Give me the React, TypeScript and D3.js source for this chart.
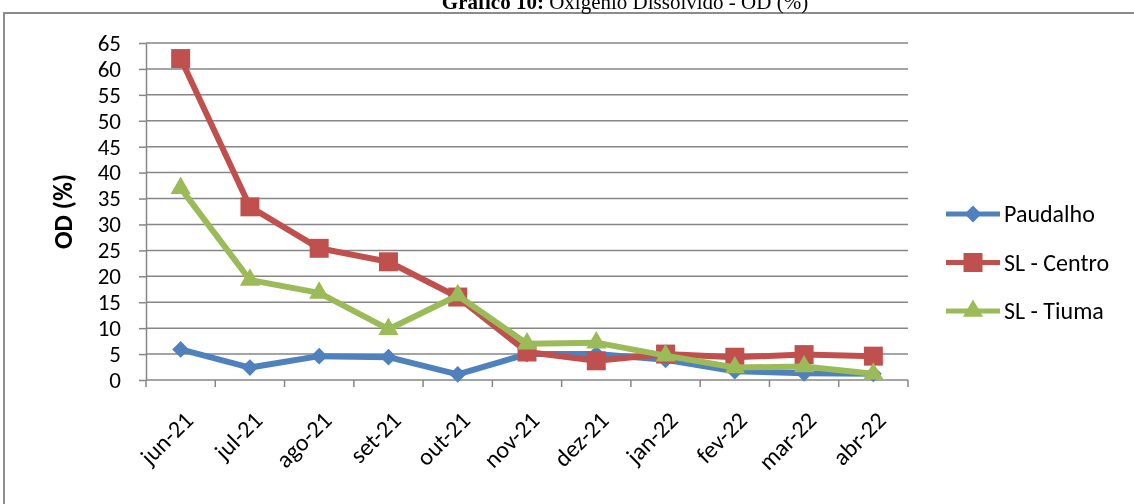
import React, { useEffect, useRef } from 'react';
import * as d3 from 'd3';

const months = ['jun-21', 'jul-21', 'ago-21', 'set-21', 'out-21', 'nov-21', 'dez-21', 'jan-22', 'fev-22', 'mar-22', 'abr-22'];
const paudalho = [5.9, 2.4, 4.6, 4.4, 1.1, 5.0, 5.0, 3.9, 1.7, 1.3, 1.2];
const slCentro = [62.0, 33.4, 25.4, 22.8, 16.0, 5.4, 3.7, 5.0, 4.4, 4.9, 4.6];
const slTiuma = [37.0, 19.3, 16.8, 9.8, 16.3, 7.0, 7.2, 4.7, 2.4, 2.6, 1.2];
const yTicks = [0, 5, 10, 15, 20, 25, 30, 35, 40, 45, 50, 55, 60, 65];

const series = [
  { name: 'Paudalho', values: paudalho, color: '#4F81BD', marker: 'diamond' },
  { name: 'SL - Centro', values: slCentro, color: '#C0504D', marker: 'square' },
  { name: 'SL - Tiuma', values: slTiuma, color: '#9BBB59', marker: 'triangle' },
];

const W = 1134;
const H = 504;
const font = 'Carlito, Calibri, "Open Sans", "Noto Sans", sans-serif';

function markerPath(type: string) {
  if (type === 'diamond') return d3.symbol(d3.symbolDiamond2, 180)();
  if (type === 'square') return d3.symbol(d3.symbolSquare, 360)();
  return d3.symbol(d3.symbolTriangle2, 290)();
}

const App = () => {
  const svgRef = useRef<SVGSVGElement>(null);

  useEffect(() => {
    const svg = d3.select(svgRef.current);
    svg.selectAll('*').remove();

    const m = { left: 146, right: 908, top: 43, bottom: 380 };

    // moldura
    svg.append('rect')
      .attr('x', 4).attr('y', 13).attr('width', W + 20).attr('height', H + 20)
      .attr('fill', 'white').attr('stroke', '#8c8c8c').attr('stroke-width', 2);

    const title = svg.append('text')
      .attr('x', 625).attr('y', 9)
      .attr('text-anchor', 'middle')
      .attr('font-family', '"Liberation Serif", "Times New Roman", serif')
      .attr('font-size', 21);
    title.append('tspan').attr('font-weight', 'bold').text('Gráfico 10:');
    title.append('tspan').text(' Oxigênio Dissolvido - OD (%)');

    const x = d3.scaleBand().domain(months).range([m.left, m.right]);
    const y = d3.scaleLinear().domain([0, 65]).range([m.bottom, m.top]);

    // grade
    svg.append('g')
      .selectAll('line')
      .data(yTicks.filter(t => t > 0))
      .enter().append('line')
      .attr('x1', m.left).attr('x2', m.right)
      .attr('y1', d => y(d)).attr('y2', d => y(d))
      .attr('stroke', '#868686').attr('stroke-width', 1.5);

    // eixo y
    const yAxis = svg.append('g')
      .attr('transform', `translate(${m.left},0)`)
      .call(d3.axisLeft(y).tickValues(yTicks).tickSize(7).tickPadding(18).tickSizeOuter(0));
    yAxis.select('.domain').attr('stroke', '#868686').attr('stroke-width', 1.5);
    yAxis.selectAll('.tick line').attr('stroke', '#868686').attr('stroke-width', 1.5);
    yAxis.selectAll('.tick text')
      .attr('font-family', font).attr('font-size', 23).attr('fill', '#000');

    // eixo x
    const bounds = months.map(d => x(d) as number).concat([m.right]);
    const xg = svg.append('g');
    xg.append('line')
      .attr('x1', m.left).attr('x2', m.right)
      .attr('y1', m.bottom).attr('y2', m.bottom)
      .attr('stroke', '#868686').attr('stroke-width', 1.5);
    xg.selectAll('line.tk')
      .data(bounds)
      .enter().append('line').attr('class', 'tk')
      .attr('x1', d => d).attr('x2', d => d)
      .attr('y1', m.bottom).attr('y2', m.bottom + 7)
      .attr('stroke', '#868686').attr('stroke-width', 1.5);
    xg.selectAll('text')
      .data(months)
      .enter().append('text')
      .attr('transform', d => `translate(${(x(d) as number) + x.bandwidth() / 2 + 2},${m.bottom + 30}) rotate(-45)`)
      .attr('text-anchor', 'end')
      .attr('dy', '0.7em')
      .attr('font-family', font).attr('font-size', 24)
      .text(d => d);

    // título eixo y
    svg.append('text')
      .attr('transform', `translate(72,${(m.top + m.bottom) / 2}) rotate(-90)`)
      .attr('text-anchor', 'middle')
      .attr('font-family', font).attr('font-size', 26).attr('font-weight', 'bold')
      .text('OD (%)');

    const cx = (i: number) => (x(months[i]) as number) + x.bandwidth() / 2;
    const line = d3.line<number>().x((d, i) => cx(i)).y(d => y(d));

    series.forEach(s => {
      const g = svg.append('g');
      g.append('path')
        .datum(s.values)
        .attr('d', line)
        .attr('fill', 'none')
        .attr('stroke', s.color)
        .attr('stroke-width', 6)
        .attr('stroke-linejoin', 'round');
      g.selectAll('path.mk')
        .data(s.values)
        .enter().append('path').attr('class', 'mk')
        .attr('d', markerPath(s.marker))
        .attr('transform', (d, i) => `translate(${cx(i)},${y(d)})`)
        .attr('fill', s.color);
    });

    // legenda
    const legend = svg.append('g');
    series.forEach((s, i) => {
      const ly = 214 + i * 48.5;
      legend.append('line')
        .attr('x1', 946).attr('x2', 1000).attr('y1', ly).attr('y2', ly)
        .attr('stroke', s.color).attr('stroke-width', 5);
      legend.append('path')
        .attr('d', markerPath(s.marker))
        .attr('transform', `translate(973,${ly})`)
        .attr('fill', s.color);
      legend.append('text')
        .attr('x', 1004).attr('y', ly).attr('dy', '0.35em')
        .attr('font-family', font).attr('font-size', 24)
        .text(s.name);
    });
  }, []);

  return (
    <div style={{ position: 'fixed', left: 0, top: 0 }}>
      <svg ref={svgRef} width={W} height={H} style={{ display: 'block' }} aria-label="Oxigênio Dissolvido" />
    </div>
  );
};

export default App;
